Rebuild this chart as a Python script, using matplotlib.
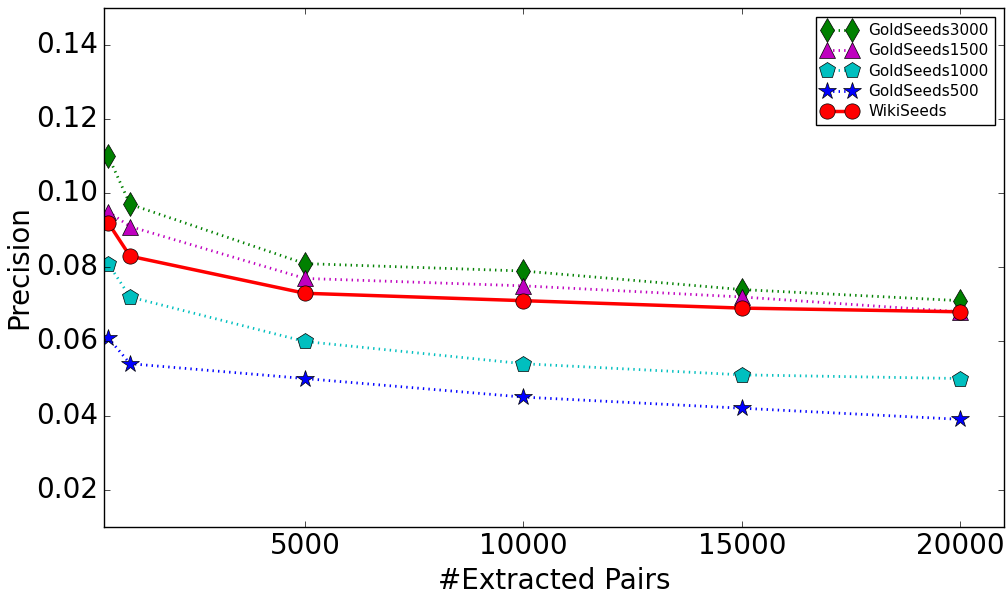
import matplotlib
matplotlib.use("Agg")
import matplotlib.pyplot as plt

pairs = [500, 1000, 5000, 10000, 15000, 20000]
gold3000 = [0.110, 0.097, 0.081, 0.079, 0.074, 0.071]
gold1500 = [0.095, 0.091, 0.077, 0.075, 0.072, 0.068]
gold1000 = [0.081, 0.072, 0.060, 0.054, 0.051, 0.050]
gold500 = [0.061, 0.054, 0.050, 0.045, 0.042, 0.039]
wiki = [0.092, 0.083, 0.073, 0.071, 0.069, 0.068]

plt.style.use("classic")
fig = plt.figure(figsize=(10.08, 5.94), dpi=100)
fig.patch.set_facecolor("white")
ax = fig.add_axes([0.103, 0.113, 0.893, 0.874])

ax.plot(pairs, gold3000, "g:", marker="d", markersize=12, linewidth=2, label="GoldSeeds3000")
ax.plot(pairs, gold1500, "m:", marker="^", markersize=12, linewidth=2, label="GoldSeeds1500")
ax.plot(pairs, gold1000, "c:", marker="p", markersize=12, linewidth=2, label="GoldSeeds1000")
ax.plot(pairs, gold500, "b:", marker="*", markersize=13, linewidth=2, label="GoldSeeds500")
ax.plot(pairs, wiki, "r-", marker="o", markersize=11, linewidth=2.5, label="WikiSeeds")

ax.set_xlim(400, 21000)
ax.set_ylim(0.01, 0.15)
ax.set_xticks([5000, 10000, 15000, 20000])
ax.set_yticks([0.02, 0.04, 0.06, 0.08, 0.10, 0.12, 0.14])
ax.tick_params(labelsize=20)
ax.set_xlabel("#Extracted Pairs", fontsize=20)
ax.set_ylabel("Precision", fontsize=20, labelpad=2)

ax.legend(loc="upper right", fontsize=11, numpoints=2, handlelength=2.2,
          labelspacing=0.35, borderaxespad=0.6)

fig.savefig("out.png", dpi=100, facecolor="white")
